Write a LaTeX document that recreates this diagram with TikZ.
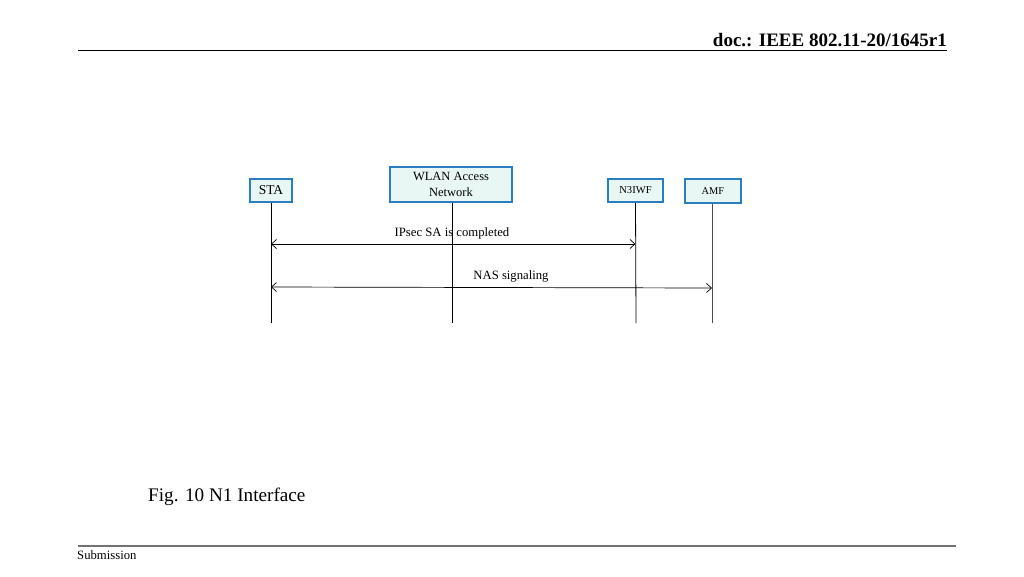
\documentclass[tikz,border=0pt]{standalone}
\usepackage{fontspec}
\setmainfont{Liberation Serif}
\usetikzlibrary{arrows.meta}
\definecolor{boxborder}{HTML}{2A7DC1}
\definecolor{boxfill}{HTML}{E8F6F4}
\tikzset{
  entity/.style={draw=boxborder, fill=boxfill, line width=1.8pt, inner sep=1pt, align=center, font=\fontsize{12.5}{14}\selectfont},
  lifeline/.style={draw=black, line width=0.8pt},
  msg/.style={draw=black, line width=0.7pt, {Straight Barb[length=5pt,width=9pt]}-{Straight Barb[length=5pt,width=9pt]}},
  msglabel/.style={font=\fontsize{12.7}{14}\selectfont, inner sep=0pt}
}
\begin{document}
\begin{tikzpicture}[x=1pt,y=-1pt]
\useasboundingbox (0,0) rectangle (1024,576);
% header
\node[anchor=base east, font=\bfseries\fontsize{19}{22}\selectfont, inner sep=0pt] (hdr) at (947,46) {doc.: IEEE 802.11-20/1645r1};
\draw[line width=0.9pt] (78,50.5) coordinate (hl) -- (947,50.5) coordinate (hr);
% footer
\draw[line width=1.6pt, color=black!55] (78,546) coordinate (fl) -- (956,546) coordinate (fr);
\node[anchor=base west, font=\fontsize{12.7}{14}\selectfont, inner sep=0pt] (sub) at (77,559) {Submission};
\node[anchor=base west, font=\fontsize{19.2}{22}\selectfont, inner sep=0pt] (fig) at (148,501) {Fig. 10 N1 Interface};
% entities
\node[entity, minimum width=42pt, minimum height=23pt, font=\fontsize{13.5}{15}\selectfont] (sta) at (271,190.5) {STA};
\node[entity, minimum width=122pt, minimum height=35pt, font=\fontsize{12.5}{15.5}\selectfont] (wlan) at (451,184.5) {WLAN Access\\Network};
\node[entity, minimum width=55pt, minimum height=23pt, font=\fontsize{10.6}{12}\selectfont] (n3iwf) at (635.5,190.5) {N3IWF};
\node[entity, minimum width=56pt, minimum height=24pt, font=\fontsize{10.4}{12}\selectfont] (amf) at (713,191) {AMF};
% lifelines
\coordinate (staend) at (271,323);
\coordinate (wlanend) at (452,323);
\coordinate (n3iwfend) at (636,323);
\coordinate (amfend) at (712,323);
\draw[lifeline] (sta.south) -- (staend);
\draw[lifeline] ([xshift=1pt]wlan.south) -- (wlanend);
\draw[lifeline] (n3iwf.south) -- (n3iwfend);
\draw[lifeline, draw=black!70] ([xshift=-1pt]amf.south) -- (amfend);
% messages
\draw[msg] (sta.south |- 0,244) -- (n3iwf.south |- 0,244);
\node[msglabel] (m1) at (452,233) {IPsec SA is completed};
\draw[msg] (sta.south |- 0,287) -- (amfend |- 0,288);
\node[msglabel] (m2) at (511,276) {NAS signaling};
\end{tikzpicture}
\end{document}
